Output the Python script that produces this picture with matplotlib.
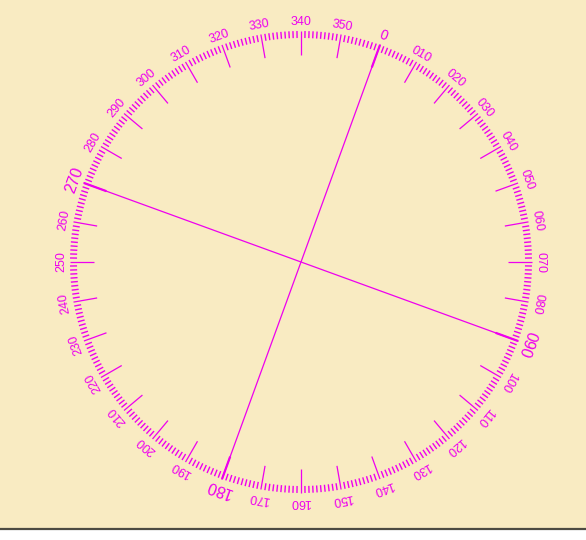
import matplotlib.pyplot as plt
import numpy as np

plt.rcParams['font.family'] = ['Liberation Sans', 'DejaVu Sans']

# compass card values
label_values = list(range(0, 360, 10))
cardinals = [0, 90, 180, 270]
top_value = 340          # value that sits at the top of the card
cross_lines = [(0, 180), (90, 270)]

bg = '#f9ebc2'
mag = '#ee00ee'

cx, cy = 301, 262
r_out = 231
r_minor = 224
r_major = 207
r_label = 240

fig = plt.figure(figsize=(5.86, 5.40), dpi=100)
ax = fig.add_axes([0, 0, 1, 1])
ax.set_xlim(0, 586)
ax.set_ylim(540, 0)
ax.axis('off')

ax.add_patch(plt.Rectangle((0, 0), 586, 528, color=bg, zorder=0))
ax.plot([0, 586], [528.5, 528.5], color='#4d4b42', lw=1.6, zorder=1)


def pos(v, r):
    t = np.radians(v - top_value)
    return cx + r * np.sin(t), cy - r * np.cos(t)


# 1 degree ticks
for v in range(360):
    if v % 10 == 0:
        continue
    x0, y0 = pos(v, r_out)
    x1, y1 = pos(v, r_minor)
    ax.plot([x0, x1], [y0, y1], color=mag, lw=1.0, solid_capstyle='butt')

# 10 degree ticks and labels
for v in label_values:
    x0, y0 = pos(v, r_out)
    x1, y1 = pos(v, r_major)
    big = v in cardinals
    ax.plot([x0, x1], [y0, y1], color=mag, lw=1.6 if big else 0.9,
            solid_capstyle='butt')
    txt = '0' if v == 0 else f'{v:03d}'
    xl, yl = pos(v, r_label + (1 if big else 0))
    size = 9
    if big:
        size = 10 if v == 0 else 11.5
    ax.text(xl, yl, txt, color=mag, fontsize=size, ha='center', va='center',
            rotation=-(v - top_value), rotation_mode='anchor')

# cross lines
for a, b in cross_lines:
    xa, ya = pos(a, r_out)
    xb, yb = pos(b, r_out)
    ax.plot([xa, xb], [ya, yb], color=mag, lw=0.9)

plt.savefig('out.png', dpi=100)
